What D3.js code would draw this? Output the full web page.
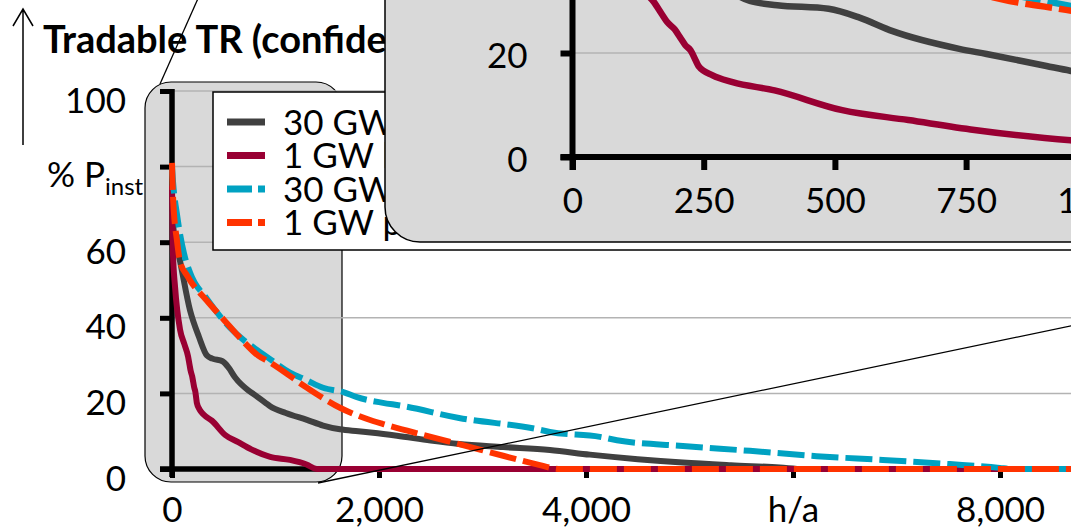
<!DOCTYPE html>
<html>
<head>
<meta charset="utf-8">
<script src="https://cdn.jsdelivr.net/npm/d3@7"></script>
<style>
  body { margin: 0; background: #fff; }
  svg { display: block; font-family: Lato, "Open Sans", sans-serif; }
</style>
</head>
<body>
<div id="chart"></div>
<script>
// hours per year vs. tradable share of installed power (%)
var seriesNames = ["30 GW historic", "1 GW historic", "30 GW prognosis", "1 GW prognosis"];
var seriesColors = ["#404040", "#990033", "#00a2c2", "#ff3300"];
var seriesDashed = [false, false, true, true];

var dark30 = [[0,68],[20,62],[70,56],[174,42],[260,35],[338,30],[390,29.2],[488,28.5],[547,26.8],[610,24.2],[737,20.8],[789,19.8],[903,17.5],[948,16.6],[1100,14.8],[1304,13],[1460,11.5],[1623,10.5],[1800,10],[1942,9.6],[2174,8.8],[2500,7.5],[2773,6.6],[3200,5.8],[3651,5],[4038,3.8],[4500,2.6],[4936,1.7],[5400,1],[5873,0.4],[6100,0],[8760,0]];
var maroon1 = [[0,75],[8,58],[30,48],[77,37],[120,33],[155,29.8],[170,27.5],[180,26],[195,24.5],[205,23],[215,21.5],[225,20.5],[235,18.5],[240,17.5],[267,15.7],[305,14.4],[385,12.8],[514,9],[640,7.1],[766,5.2],[949,3.2],[1140,2.4],[1300,1.2],[1400,0],[8760,0]];
var cyan30 = [[0,80],[10,76],[50,67],[116,57],[174,52],[338,45],[560,37.4],[821,31.5],[900,30],[1140,25.5],[1300,23.5],[1460,21.5],[1662,20.3],[1787,19],[2038,17.5],[2203,16.8],[2773,13.5],[3516,10.6],[3651,9.8],[4135,8.5],[4299,7.6],[4936,6.1],[5584,4.8],[6228,3.4],[6868,2.4],[7515,1.3],[7998,0.3],[8100,0],[8760,0]];
var red1 = [[0,81],[10,72],[50,60],[77,55],[150,51],[338,44.5],[500,39.5],[657,34.7],[833,30],[940,28.3],[1304,21.5],[1623,16.2],[1942,12.7],[2038,11.9],[2400,9.2],[2773,6.6],[3200,3.5],[3516,1.3],[3750,0],[8760,0]];

var xTicks = [0, 2000, 4000, 6000, 8000];
var xTickLabels = ["0", "2,000", "4,000", "h/a", "8,000"];
var yTicks = [0, 20, 40, 60, 80, 100];
var yTickLabels = ["0", "20", "40", "60", "", "100"];
var insetXTicks = [0, 250, 500, 750, 1000];
var insetYTicks = [0, 20, 40];

var allSeries = [dark30, maroon1, cyan30, red1];

var width = 1071, height = 528;
var svg = d3.select("#chart").append("svg")
    .attr("width", width)
    .attr("height", height);

var x = d3.scaleLinear().domain([0, 8760]).range([172, 172 + 8760 * 207 / 2000]);
var y = d3.scaleLinear().domain([0, 100]).range([469, 91]);

var fontSize = 35;
var dashes = "27,7";

// zoom highlight box in the main chart
svg.append("rect")
    .attr("x", 145).attr("y", 82)
    .attr("width", 197).attr("height", 400)
    .attr("rx", 26).attr("ry", 26)
    .style("fill", "#d9d9d9")
    .style("stroke", "#000")
    .style("stroke-width", 1.2);

// gridlines
svg.append("g").selectAll("line")
    .data(yTicks.filter(function(d) { return d > 0; }))
  .enter().append("line")
    .attr("x1", x(0)).attr("x2", width)
    .attr("y1", function(d) { return y(d); })
    .attr("y2", function(d) { return y(d); })
    .style("stroke", "#b3b3b3")
    .style("stroke-width", 1.5);

// axes
var yAxis = d3.axisLeft(y).tickValues(yTicks).tickSize(12).tickSizeOuter(0).tickPadding(34)
    .tickFormat(function(d, i) { return yTickLabels[i]; });
var gy = svg.append("g").attr("transform", "translate(" + x(0) + ",0)").call(yAxis);
var xAxis = d3.axisBottom(x).tickValues(xTicks).tickSize(9).tickSizeOuter(0).tickPadding(19)
    .tickFormat(function(d, i) { return xTickLabels[i]; });
var gx = svg.append("g").attr("transform", "translate(0," + y(0) + ")").call(xAxis);

[gx, gy].forEach(function(g) {
  g.select(".domain").remove();
  g.selectAll(".tick line").style("stroke", "#000").style("stroke-width", 5);
  g.selectAll(".tick text").style("font-size", fontSize + "px").style("fill", "#000")
    .style("font-family", "Lato, sans-serif");
});
gy.selectAll(".tick text").attr("dy", "0.6em");

svg.append("line")
    .attr("x1", x(0)).attr("x2", x(0))
    .attr("y1", y(100) - 2).attr("y2", y(0) + 8)
    .style("stroke", "#000").style("stroke-width", 5.5);
svg.append("line")
    .attr("x1", x(0) - 12).attr("x2", width)
    .attr("y1", y(0)).attr("y2", y(0))
    .style("stroke", "#000").style("stroke-width", 5.5);

// curves
var line = d3.line()
    .x(function(d) { return x(d[0]); })
    .y(function(d) { return y(d[1]); })
    .curve(d3.curveMonotoneX);

svg.append("g").selectAll("path")
    .data(allSeries)
  .enter().append("path")
    .attr("d", line)
    .style("fill", "none")
    .style("stroke", function(d, i) { return seriesColors[i]; })
    .style("stroke-width", 6)
    .style("stroke-linejoin", "round")
    .style("stroke-dasharray", function(d, i) { return seriesDashed[i] ? dashes : null; });

// title and unit
svg.append("text")
    .attr("x", 43).attr("y", 53)
    .style("font-size", "38px").style("font-weight", "bold")
    .text("Tradable TR (confidence level 95 %)");

var unit = svg.append("text")
    .attr("x", 47).attr("y", 187)
    .style("font-size", fontSize + "px");
unit.append("tspan").text("% P");
unit.append("tspan").attr("dy", 8).style("font-size", "24px").text("inst");

// arrow
svg.append("path")
    .attr("d", "M23,145 L23,10 M13,26 L23,9 L33,26")
    .style("fill", "none").style("stroke", "#000").style("stroke-width", 1.5);

// legend
var legend = svg.append("g");
legend.append("rect")
    .attr("x", 213).attr("y", 92)
    .attr("width", 900).attr("height", 158)
    .style("fill", "#fff").style("stroke", "#000").style("stroke-width", 1.5);
var items = legend.selectAll("g.item")
    .data(seriesNames)
  .enter().append("g")
    .attr("class", "item")
    .attr("transform", function(d, i) { return "translate(0," + (122 + i * 33.5) + ")"; });
items.append("line")
    .attr("x1", 227).attr("x2", 265)
    .style("stroke", function(d, i) { return seriesColors[i]; })
    .style("stroke-width", 7)
    .style("stroke-dasharray", function(d, i) { return seriesDashed[i] ? "25,6" : null; });
items.append("text")
    .attr("x", 283).attr("dy", "0.36em")
    .style("font-size", fontSize + "px")
    .text(function(d) { return d; });

// connector lines
svg.append("line")
    .attr("x1", 160).attr("y1", 84).attr("x2", 216).attr("y2", -42)
    .style("stroke", "#000").style("stroke-width", 1.3);
svg.append("line")
    .attr("x1", 318).attr("y1", 483).attr("x2", 1171).attr("y2", 305)
    .style("stroke", "#000").style("stroke-width", 1.3);

// inset (zoomed view of the first hours)
var inset = svg.append("g");
var insetRect = { x: 385, y: -60, w: 800, h: 302, r: 35 };
svg.append("clipPath").attr("id", "insetClip")
  .append("rect")
    .attr("x", insetRect.x).attr("y", insetRect.y)
    .attr("width", insetRect.w).attr("height", insetRect.h)
    .attr("rx", insetRect.r).attr("ry", insetRect.r);
inset.append("rect")
    .attr("x", insetRect.x).attr("y", insetRect.y)
    .attr("width", insetRect.w).attr("height", insetRect.h)
    .attr("rx", insetRect.r).attr("ry", insetRect.r)
    .style("fill", "#d9d9d9")
    .style("stroke", "#000").style("stroke-width", 1.5);

var ix = d3.scaleLinear().domain([0, 1000]).range([572.5, 572.5 + 4 * 131.2]);
var iy = d3.scaleLinear().domain([0, 40]).range([157, 157 - 2 * 104]);

var ig = inset.append("g").attr("clip-path", "url(#insetClip)");
ig.selectAll("line.grid")
    .data(insetYTicks.filter(function(d) { return d > 0; }))
  .enter().append("line")
    .attr("class", "grid")
    .attr("x1", ix(0)).attr("x2", width)
    .attr("y1", function(d) { return iy(d); })
    .attr("y2", function(d) { return iy(d); })
    .style("stroke", "#b3b3b3").style("stroke-width", 1.5);

var iyAxis = d3.axisLeft(iy).tickValues(insetYTicks).tickSize(12).tickSizeOuter(0).tickPadding(33)
    .tickFormat(d3.format("d"));
var igy = ig.append("g").attr("transform", "translate(" + ix(0) + ",0)").call(iyAxis);
var ixAxis = d3.axisBottom(ix).tickValues(insetXTicks).tickSize(13).tickSizeOuter(0).tickPadding(18)
    .tickFormat(d3.format("d"));
var igx = ig.append("g").attr("transform", "translate(0," + iy(0) + ")").call(ixAxis);
[igx, igy].forEach(function(g) {
  g.select(".domain").remove();
  g.selectAll(".tick line").style("stroke", "#000").style("stroke-width", 6);
  g.selectAll(".tick text").style("font-size", fontSize + "px").style("fill", "#000")
    .style("font-family", "Lato, sans-serif");
});
igy.selectAll(".tick text").attr("dy", "0.42em");

ig.append("line")
    .attr("x1", ix(0)).attr("x2", ix(0))
    .attr("y1", -60).attr("y2", iy(0) + 13)
    .style("stroke", "#000").style("stroke-width", 6);
ig.append("line")
    .attr("x1", ix(0) - 12).attr("x2", width)
    .attr("y1", iy(0)).attr("y2", iy(0))
    .style("stroke", "#000").style("stroke-width", 6);

var iline = d3.line()
    .x(function(d) { return ix(d[0]); })
    .y(function(d) { return iy(d[1]); })
    .curve(d3.curveMonotoneX);

ig.append("g").selectAll("path")
    .data(allSeries)
  .enter().append("path")
    .attr("d", iline)
    .style("fill", "none")
    .style("stroke", function(d, i) { return seriesColors[i]; })
    .style("stroke-width", 6.5)
    .style("stroke-linejoin", "round")
    .style("stroke-dasharray", function(d, i) { return seriesDashed[i] ? dashes : null; });
</script>
</body>
</html>
